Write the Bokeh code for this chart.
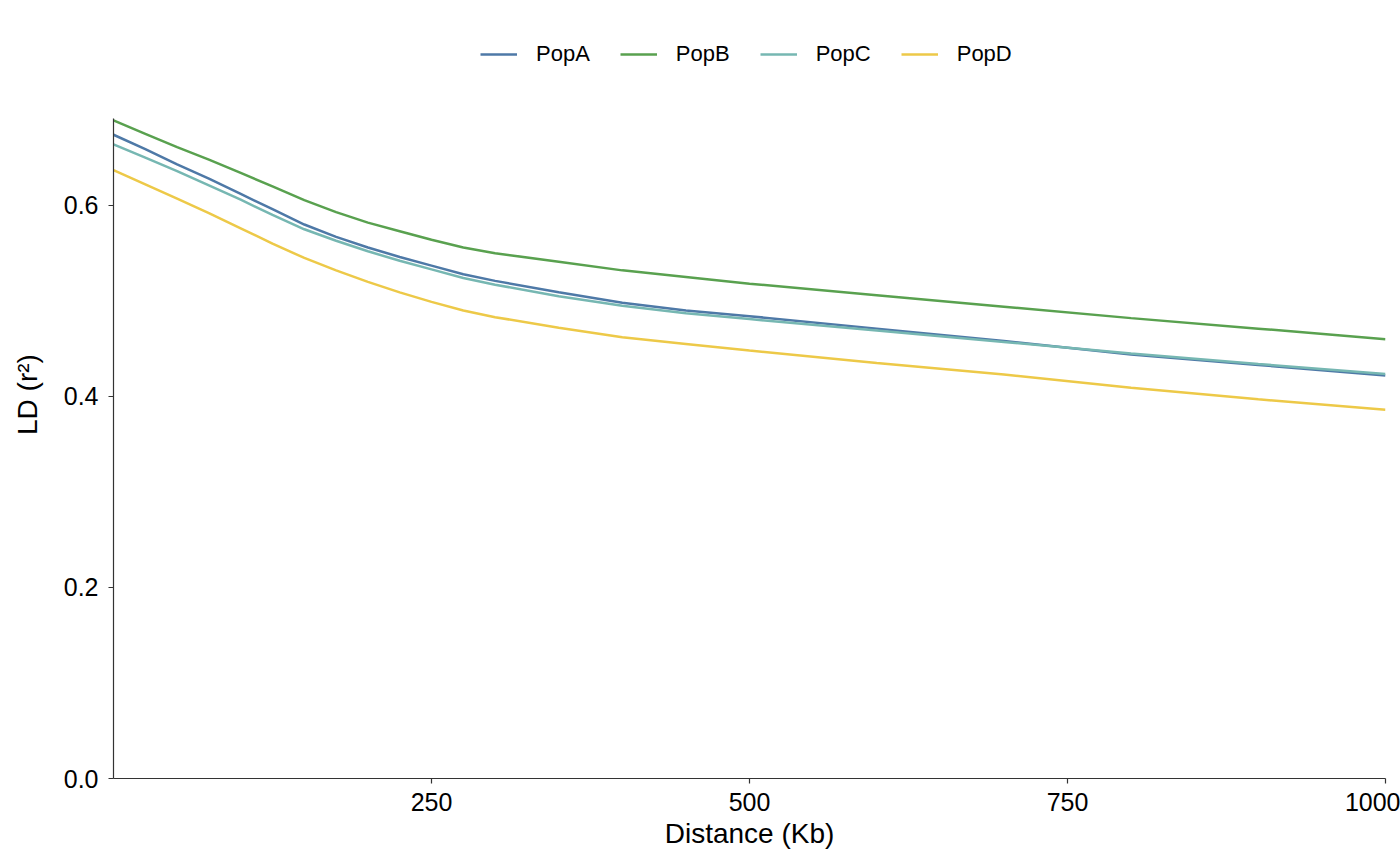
from bokeh.plotting import figure
from bokeh.models import Range1d, FixedTicker, NumeralTickFormatter, Legend, LegendItem
from bokeh.embed import file_html
from bokeh.resources import INLINE

distance = [0, 25, 50, 75, 100, 125, 150, 175, 200, 225, 250, 275, 300, 350, 400, 450, 500, 600, 700, 800, 900, 1000]
popA = [0.674, 0.659, 0.643, 0.628, 0.612, 0.596, 0.580, 0.567, 0.556, 0.546, 0.537, 0.528, 0.521, 0.509, 0.498, 0.490, 0.484, 0.471, 0.458, 0.444, 0.433, 0.422]
popB = [0.689, 0.675, 0.661, 0.648, 0.634, 0.620, 0.6055, 0.593, 0.582, 0.573, 0.564, 0.556, 0.550, 0.541, 0.532, 0.525, 0.518, 0.506, 0.494, 0.482, 0.471, 0.460]
popC = [0.664, 0.650, 0.636, 0.621, 0.606, 0.590, 0.575, 0.563, 0.552, 0.542, 0.533, 0.524, 0.517, 0.505, 0.495, 0.487, 0.481, 0.469, 0.457, 0.445, 0.434, 0.4235]
popD = [0.637, 0.622, 0.607, 0.592, 0.576, 0.560, 0.545, 0.532, 0.520, 0.509, 0.499, 0.490, 0.483, 0.472, 0.462, 0.455, 0.448, 0.435, 0.423, 0.409, 0.397, 0.386]

series_names = ["PopA", "PopB", "PopC", "PopD"]
series_values = [popA, popB, popC, popD]
colors = ["#4E79A7", "#59A14F", "#76B7B2", "#EDC948"]

x_ticks = [250, 500, 750, 1000]
y_ticks = [0.0, 0.2, 0.4, 0.6]
y_axis_top = 0.691

FONT = "Liberation Sans"
AXIS_COLOR = "#333333"

# the frame reaches above the drawn y axis so that the legend can sit inside it
frame_top_px, axis_top_px, axis_bottom_px = 10, 118, 778
y_end = y_axis_top * (axis_bottom_px - frame_top_px) / (axis_bottom_px - axis_top_px)

p = figure(width=1400, height=862, output_backend="svg", toolbar_location=None,
           x_range=Range1d(0, 1000), y_range=Range1d(0, y_end),
           min_border_left=113, min_border_right=15, min_border_top=frame_top_px, min_border_bottom=84)
p.outline_line_color = None
p.xgrid.visible = False
p.ygrid.visible = False
p.background_fill_color = "white"
p.border_fill_color = "white"

renderers = []
for name, vals, col in zip(series_names, series_values, colors):
    r = p.line(distance, vals, line_color=col, line_width=2.5)
    renderers.append((name, r))

for ax in (p.xaxis[0], p.yaxis[0]):
    ax.axis_line_color = AXIS_COLOR
    ax.axis_line_width = 1.2
    ax.major_tick_line_color = AXIS_COLOR
    ax.major_tick_line_width = 1.2
    ax.major_tick_in = 0
    ax.major_tick_out = 5
    ax.minor_tick_line_color = None
    ax.major_label_text_font = FONT
    ax.major_label_text_color = "black"
    ax.major_label_text_font_size = "25px"
    ax.axis_label_text_font = FONT
    ax.axis_label_text_color = "black"
    ax.axis_label_text_font_size = "28px"
    ax.axis_label_text_font_style = "normal"

p.yaxis.bounds = (0, y_axis_top)
p.xaxis.ticker = FixedTicker(ticks=x_ticks)
p.yaxis.ticker = FixedTicker(ticks=y_ticks)
p.yaxis.formatter = NumeralTickFormatter(format="0.0")
p.xaxis.axis_label = "Distance (Kb)"
p.yaxis.axis_label = "LD (r²)"
p.xaxis.major_label_standoff = 9
p.yaxis.major_label_standoff = 10
p.xaxis.axis_label_standoff = 4
p.yaxis.axis_label_standoff = 18

legend = Legend(items=[LegendItem(label=n, renderers=[r]) for n, r in renderers],
                orientation="horizontal", location=(367, 711),
                glyph_width=37, glyph_height=24, label_standoff=19, spacing=30,
                padding=0, margin=0, border_line_color=None, background_fill_alpha=0,
                label_text_font=FONT, label_text_font_size="22px", label_text_color="black")
p.add_layout(legend, "center")

open("out.html", "w").write(file_html(p, INLINE))
